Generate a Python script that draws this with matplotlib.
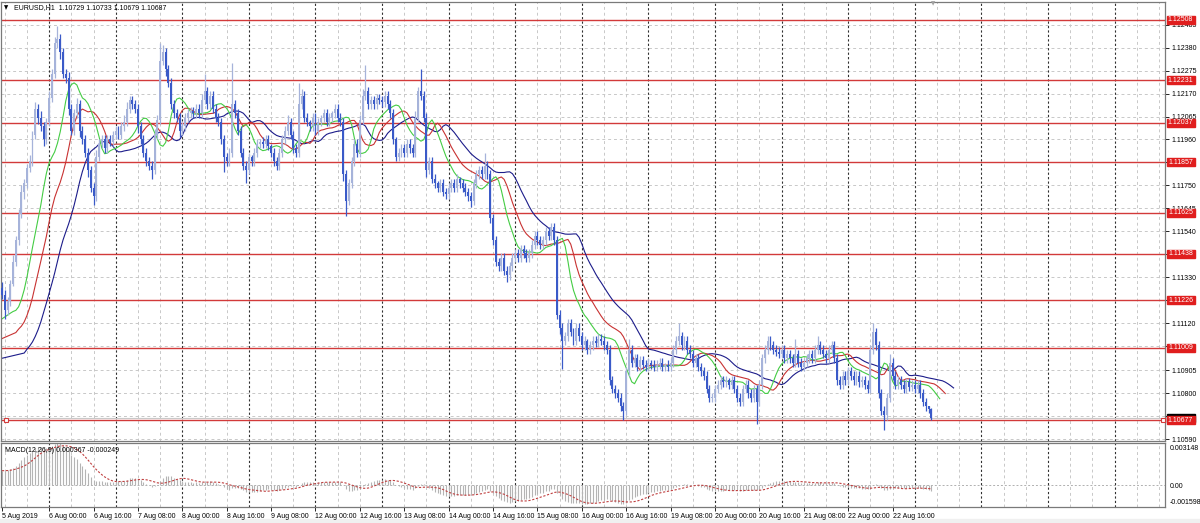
import matplotlib
matplotlib.use("Agg")
import matplotlib.pyplot as plt
import numpy as np
from matplotlib.patches import Rectangle
from matplotlib.transforms import blended_transform_factory

plt.rcParams['font.family'] = ['Liberation Sans', 'DejaVu Sans']

# EURUSD H1, 5 Aug 2019 07:00 .. 23 Aug 2019 06:00 (336 bars)
# prices kept in pips above 1.1000, one row per trading day
BASE = 1.1000
first_open = 128

close_pips = [
    125, 118, 122, 130, 140, 150, 162, 172, 176, 183, 186, 198, 210, 206, 202, 196, 204, 215,
    226, 240, 242, 236, 226, 224, 210, 200, 208, 212, 200, 196, 190, 182, 174, 170, 188, 194, 196, 192, 196, 195, 198,
    200, 198, 202, 204, 210, 214, 212, 210, 202, 196, 190, 186, 184, 182, 198, 205, 232, 236, 228, 222, 212, 208, 206, 200,
    202, 206, 208, 209, 208, 210, 208, 214, 218, 212, 216, 210, 206, 204, 196, 188, 186, 190, 212, 208, 200, 190, 184, 182,
    188, 186, 190, 194, 195, 194, 196, 193, 190, 186, 184, 190, 196, 200, 204, 198, 192, 190, 212, 216, 206, 204, 202, 206,
    200, 204, 206, 208, 204, 206, 208, 210, 206, 204, 180, 168, 176, 186, 194, 190, 205, 216, 218, 212, 214, 212, 215, 214,
    213, 216, 212, 208, 196, 188, 190, 192, 190, 194, 192, 190, 206, 218, 216, 206, 182, 186, 178, 176, 174, 176, 172, 171,
    174, 176, 174, 178, 176, 174, 172, 170, 168, 176, 180, 182, 180, 184, 180, 160, 150, 140, 138, 142, 136, 134, 138, 142,
    144, 142, 146, 144, 142, 144, 148, 152, 150, 148, 150, 154, 152, 156, 150, 116, 110, 104, 106, 112, 108, 104, 110, 106,
    102, 104, 100, 102, 104, 103, 105, 104, 102, 100, 86, 82, 80, 78, 74, 72, 90, 100, 94, 96, 92, 95, 93, 92,
    94, 93, 92, 93, 94, 92, 93, 92, 94, 100, 104, 106, 102, 104, 100, 98, 94, 96, 92, 90, 88, 82, 78, 78,
    82, 84, 86, 85, 86, 84, 86, 82, 78, 76, 82, 84, 80, 78, 82, 76, 84, 96, 100, 104, 102, 100, 99, 98,
    100, 96, 98, 96, 94, 98, 94, 92, 94, 96, 98, 96, 100, 102, 100, 98, 96, 100, 102, 96, 86, 84, 88, 86,
    90, 88, 86, 88, 85, 86, 84, 82, 100, 108, 102, 80, 72, 70, 78, 94, 88, 84, 86, 84, 82, 85, 83, 84,
    82, 84, 80, 76, 74, 72.9, 68.7,
]

upper_wick = [
    3, 2, 2, 2, 3, 2, 2, 3, 2, 2, 3, 2, 3, 2, 3, 2, 2, 3,
    2, 3, 6, 2, 2, 2, 3, 2, 2, 3, 2, 2, 2, 2, 2, 2, 3, 2, 2, 2, 2, 2, 2,
    2, 2, 2, 3, 3, 2, 2, 2, 2, 2, 2, 2, 2, 2, 3, 2, 8, 3, 2, 2, 2, 2, 2, 2,
    2, 2, 2, 2, 2, 2, 2, 3, 8, 2, 2, 2, 2, 2, 2, 2, 2, 2, 19, 2, 2, 2, 2, 2,
    2, 1, 2, 2, 1, 2, 2, 2, 1, 2, 2, 2, 2, 2, 3, 2, 2, 2, 10, 3, 2, 2, 1, 2,
    2, 2, 1, 2, 2, 2, 1, 2, 2, 2, 2, 2, 2, 2, 2, 2, 2, 3, 12, 2, 2, 2, 2, 2,
    2, 2, 2, 2, 2, 1, 2, 2, 2, 2, 2, 2, 3, 2, 10, 2, 2, 2, 2, 2, 1, 2, 2, 2,
    2, 2, 2, 2, 1, 2, 2, 2, 2, 2, 2, 2, 2, 6, 2, 2, 2, 2, 2, 2, 2, 2, 2, 2,
    2, 2, 2, 2, 2, 2, 2, 2, 2, 2, 2, 2, 2, 2, 2, 2, 2, 2, 2, 2, 2, 2, 2, 2,
    2, 2, 1, 2, 2, 2, 2, 2, 2, 2, 2, 2, 2, 2, 2, 2, 2, 5, 2, 2, 2, 2, 2, 2,
    2, 1, 2, 2, 2, 2, 1, 2, 2, 2, 2, 6, 2, 2, 2, 2, 2, 2, 2, 2, 2, 2, 2, 2,
    2, 2, 2, 2, 2, 1, 2, 2, 2, 2, 2, 2, 2, 2, 2, 2, 2, 2, 2, 2, 2, 2, 2, 2,
    2, 2, 2, 2, 2, 7, 2, 2, 2, 2, 2, 2, 2, 4, 2, 2, 2, 2, 2, 2, 2, 2, 2, 2,
    2, 2, 2, 2, 2, 2, 2, 2, 2, 4, 2, 2, 2, 2, 2, 4, 2, 2, 2, 2, 2, 2, 2, 2,
    2, 2, 2, 2, 2, 0.4, 0.4,
]

lower_wick = [
    2, 4, 2, 2, 1, 2, 2, 2, 3, 2, 2, 2, 2, 3, 2, 3, 2, 2,
    2, 2, 2, 3, 2, 2, 3, 2, 2, 2, 3, 2, 2, 3, 2, 4, 2, 2, 2, 2, 2, 2, 2,
    2, 2, 2, 2, 2, 2, 2, 2, 3, 2, 2, 2, 2, 4, 2, 2, 2, 2, 3, 2, 2, 2, 2, 3,
    2, 2, 2, 2, 2, 2, 2, 2, 2, 2, 2, 2, 2, 2, 2, 7, 2, 2, 2, 2, 2, 2, 2, 6,
    2, 2, 2, 2, 2, 2, 2, 2, 2, 2, 2, 2, 2, 2, 2, 2, 2, 2, 2, 2, 2, 2, 2, 2,
    2, 2, 2, 2, 2, 2, 2, 2, 2, 2, 3, 7, 2, 2, 2, 2, 2, 2, 2, 2, 2, 2, 2, 2,
    2, 2, 2, 2, 2, 2, 2, 2, 2, 2, 2, 2, 2, 2, 2, 2, 3, 2, 2, 2, 2, 2, 2, 2,
    2, 2, 2, 2, 2, 2, 2, 2, 3, 2, 2, 2, 2, 2, 2, 2, 2, 2, 2, 2, 2, 3, 2, 2,
    2, 2, 2, 2, 2, 2, 2, 2, 2, 2, 2, 2, 2, 2, 2, 2, 3, 13, 2, 2, 2, 2, 2, 2,
    2, 2, 2, 2, 2, 2, 2, 2, 2, 2, 2, 2, 2, 2, 2, 4, 2, 2, 2, 2, 2, 2, 2, 2,
    2, 2, 2, 2, 2, 2, 2, 2, 2, 2, 2, 2, 2, 2, 2, 2, 2, 2, 2, 2, 2, 2, 2, 2,
    2, 2, 2, 2, 2, 2, 2, 2, 2, 2, 2, 2, 2, 2, 2, 10, 2, 2, 2, 2, 2, 2, 2, 2,
    2, 2, 2, 2, 2, 2, 2, 2, 2, 2, 2, 2, 2, 2, 2, 2, 2, 2, 2, 2, 2, 2, 2, 2,
    2, 2, 2, 2, 2, 2, 2, 2, 2, 2, 2, 2, 2, 7, 2, 2, 2, 2, 2, 2, 2, 2, 2, 2,
    2, 2, 2, 2, 2, 2, 0.8,
]

# horizontal levels drawn on the chart
levels = [1.12508, 1.12231, 1.12037, 1.11857, 1.11625, 1.11438, 1.11226, 1.11009, 1.10677]
bid = 1.10687

# price grid; labels that the level boxes cover completely are left blank
price_ticks = [1.12485, 1.12380, 1.12275, 1.12170, 1.12065, 1.11960, 1.11855, 1.11750, 1.11645,
               1.11540, 1.11435, 1.11330, 1.11225, 1.11120, 1.11015, 1.10905, 1.10800, 1.10695, 1.10590]
price_tick_labels = ["1.12485", "1.12380", "1.12275", "1.12170", "1.12065", "1.11960", "", "1.11750", "1.11645",
                     "1.11540", "", "1.11330", "", "1.11120", "", "1.10905", "1.10800", "", "1.10590"]

date_bars = [0, 17, 33, 49, 65, 81, 97, 113, 129, 145, 161, 177, 193, 209, 225, 241, 257, 273, 289, 305, 321]
date_labels = ["5 Aug 2019", "6 Aug 00:00", "6 Aug 16:00", "7 Aug 08:00", "8 Aug 00:00", "8 Aug 16:00",
               "9 Aug 08:00", "12 Aug 00:00", "12 Aug 16:00", "13 Aug 08:00", "14 Aug 00:00", "14 Aug 16:00",
               "15 Aug 08:00", "16 Aug 00:00", "16 Aug 16:00", "19 Aug 08:00", "20 Aug 00:00", "20 Aug 16:00",
               "21 Aug 08:00", "22 Aug 00:00", "22 Aug 16:00"]
day_start_bars = [17, 41, 65, 89, 113, 137, 161, 185, 209, 233, 257, 281, 305, 329, 353, 377, 401]

# indicator levels at the left edge, before the first visible bar
alligator_start = {"jaw": 1.1096, "teeth": 1.1105, "lips": 1.1114}
ema_start = {"fast": 1.1104, "slow": 1.1094}

# ---- build OHLC
closes = BASE + np.array(close_pips, dtype=float) / 10000
opens = np.concatenate([[BASE + first_open / 10000], closes[:-1]])
highs = np.maximum(opens, closes) + np.array(upper_wick) / 10000
lows = np.minimum(opens, closes) - np.array(lower_wick) / 10000
n = len(closes)
x = np.arange(n)


def smma(values, period, seed):
    out = []
    s = seed
    for v in values:
        s = (s * (period - 1) + v) / period
        out.append(s)
    return np.array(out)


def ema(values, period, seed):
    a = 2.0 / (period + 1)
    out = []
    e = seed
    for v in values:
        e = e + a * (v - e)
        out.append(e)
    return np.array(out)


median = (highs + lows) / 2
jaw = smma(median, 13, alligator_start["jaw"])
teeth = smma(median, 8, alligator_start["teeth"])
lips = smma(median, 5, alligator_start["lips"])

ema12 = ema(closes, 12, ema_start["fast"])
ema26 = ema(closes, 26, ema_start["slow"])
macd = ema12 - ema26
signal = np.array([macd[max(0, i - 8):i + 1].mean() for i in range(n)])

# ---- figure
W, H = 1200, 523
fig = plt.figure(figsize=(W / 100, H / 100), dpi=100)
fig.patch.set_facecolor('white')


def fx(px):
    return px / W


def fy(py):
    return 1 - py / H


ax = fig.add_axes([fx(1), fy(441), fx(1165) - fx(1), fy(2) - fy(441)])
axm = fig.add_axes([fx(1), fy(507), fx(1165) - fx(1), fy(443) - fy(507)], sharex=ax)

ax.set_xlim(-0.35, 419.2)
ax.set_ylim(1.105819, 1.125884)
axm.set_ylim(-0.001598, 0.003148)

grid_kw = dict(color='#c8c8c8', lw=0.7, linestyle=(0, (3, 3)), zorder=0)
sep_kw = dict(color='#303030', lw=0.8, linestyle=(0, (2, 2)), zorder=0.5)
for a in (ax, axm):
    for gx in range(1, 420, 8):
        if gx not in day_start_bars:
            a.axvline(gx, **grid_kw)
    for dx in day_start_bars:
        a.axvline(dx, **sep_kw)
    for s in a.spines.values():
        s.set_color('#7a7a7a')
        s.set_linewidth(0.9)
for t in price_ticks:
    ax.axhline(t, **grid_kw)
axm.axhline(0.0, color='#b0b0b0', lw=0.7, linestyle=(0, (2, 2)), zorder=0)

# levels
for lv in levels:
    ax.axhline(lv, color='#d23a3a', lw=1.0, zorder=1)
ax.axhline(bid, color='#c8c8c8', lw=0.8, zorder=1)
ax.plot([0.004, 0.998], [levels[-1], levels[-1]], transform=blended_transform_factory(ax.transAxes, ax.transData),
        ls='none', marker='s', ms=2.6, mfc='white', mec='#d23a3a', mew=0.8, clip_on=False, zorder=5)

# alligator (jaw 13/8, teeth 8/5, lips 5/3)
ax.plot(np.concatenate([[0], x + 8]), np.concatenate([[alligator_start["jaw"]], jaw]), color='#1c1c8a', lw=0.8, zorder=2)
ax.plot(np.concatenate([[0], x + 5]), np.concatenate([[alligator_start["teeth"]], teeth]), color='#c83232', lw=0.8, zorder=2)
ax.plot(np.concatenate([[0], x + 3]), np.concatenate([[alligator_start["lips"]], lips]), color='#44cc44', lw=0.8, zorder=2)

# candles
up = closes >= opens
col = np.where(up, '#a6b3da', '#3a5ac8')
ax.vlines(x, lows, highs, colors=col, lw=0.9, zorder=3)
body = np.maximum(np.abs(closes - opens), 0.00003)
ax.bar(x, body, bottom=np.minimum(opens, closes), width=0.7, color=col, linewidth=0, zorder=3)

# price axis
ax.yaxis.tick_right()
ax.set_yticks(price_ticks)
ax.set_yticklabels(price_tick_labels)
ax.tick_params(axis='y', labelsize=5, length=3, width=0.6, pad=2, colors='black')
ax.tick_params(axis='x', bottom=False, labelbottom=False)

# level labels
bt = blended_transform_factory(ax.transAxes, ax.transData)
box_w = 28 / 1164
box_h = 8 / 21879
ax.add_patch(Rectangle((1.0013, bid - box_h / 2), box_w, box_h, transform=bt, color='black', clip_on=False, zorder=6))
for lv in levels:
    ax.add_patch(Rectangle((1.0013, lv - box_h / 2), box_w, box_h, transform=bt, color='#e01e1e', clip_on=False, zorder=8))
    ax.text(1.0013 + box_w / 2, lv, f"{lv:.5f}", transform=bt, color='white', fontsize=5, ha='center', va='center',
            clip_on=False, zorder=9)

# MACD
axm.vlines(x, 0, macd, colors='#b4b4b4', lw=0.8, zorder=2)
axm.plot(x, signal, color='#c04040', lw=0.8, linestyle=(0, (2, 1.5)), zorder=3)
axm.set_yticks([])
axm.set_xticks(date_bars)
axm.set_xticklabels(date_labels)
axm.tick_params(axis='x', labelsize=5, length=3, width=0.6, pad=1.5, colors='black')
for lbl in axm.get_xticklabels():
    lbl.set_ha('left')

fig.text(fx(1170), fy(448), "0.003148", fontsize=5, va='center', ha='left')
fig.text(fx(1170), fy(486), "0.00", fontsize=5, va='center', ha='left')
fig.text(fx(1170), fy(503), "-0.001598", fontsize=5, va='center', ha='left')

# headers
fig.text(fx(4), fy(8), "\u25bc", fontsize=4, va='center', ha='left', family=['DejaVu Sans'])
fig.text(fx(14), fy(8), "EURUSD,H1  1.10729 1.10733 1.10679 1.10687", fontsize=5, va='center', ha='left')
fig.text(fx(5), fy(450), "MACD(12,26,9) 0.000367 -0.000249", fontsize=5, va='center', ha='left')
fig.text(fx(933), fy(4), "\u25bc", fontsize=4, color='#a0a0a0', va='center', ha='center', family=['DejaVu Sans'])

# bottom strip
fig.patches.append(Rectangle((0, 0), 1, fy(519), transform=fig.transFigure, color='#f0f0f0', zorder=-1))

fig.savefig("out.png", dpi=100)
